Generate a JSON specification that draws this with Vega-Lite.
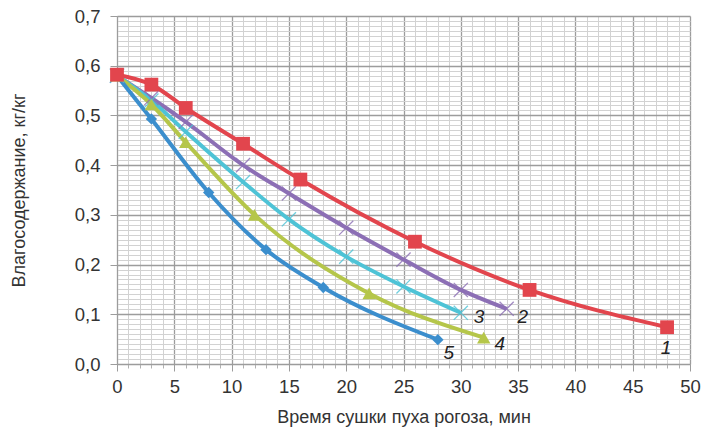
{
  "$schema": "https://vega.github.io/schema/vega-lite/v6.json",
  "width": 573,
  "height": 348,
  "autosize": "none",
  "padding": {"left": 117, "top": 16, "right": 14, "bottom": 64},
  "background": "white",
  "config": {
    "view": {"stroke": null},
    "font": "Liberation Sans",
    "axis": {"labelFont": "Liberation Sans", "titleFont": "Liberation Sans", "labelColor": "#333333", "titleColor": "#333333", "labelFontSize": 18.5, "titleFontSize": 18, "titleFontWeight": "normal"}
  },
  "datasets": {
    "curves": [
      {"t": 0, "w": 0.582, "s": "1"}, {"t": 3, "w": 0.562, "s": "1"}, {"t": 6, "w": 0.515, "s": "1"}, {"t": 11, "w": 0.443, "s": "1"}, {"t": 16, "w": 0.371, "s": "1"}, {"t": 26, "w": 0.246, "s": "1"}, {"t": 36, "w": 0.149, "s": "1"}, {"t": 48, "w": 0.074, "s": "1"},
      {"t": 0, "w": 0.58, "s": "2"}, {"t": 3, "w": 0.535, "s": "2"}, {"t": 6, "w": 0.487, "s": "2"}, {"t": 11, "w": 0.4, "s": "2"}, {"t": 15, "w": 0.343, "s": "2"}, {"t": 20, "w": 0.274, "s": "2"}, {"t": 25, "w": 0.21, "s": "2"}, {"t": 30, "w": 0.149, "s": "2"}, {"t": 34, "w": 0.111, "s": "2"},
      {"t": 0, "w": 0.58, "s": "3"}, {"t": 3, "w": 0.53, "s": "3"}, {"t": 6, "w": 0.467, "s": "3"}, {"t": 11, "w": 0.366, "s": "3"}, {"t": 15, "w": 0.291, "s": "3"}, {"t": 20, "w": 0.216, "s": "3"}, {"t": 25, "w": 0.156, "s": "3"}, {"t": 30, "w": 0.103, "s": "3"},
      {"t": 0, "w": 0.58, "s": "4"}, {"t": 3, "w": 0.522, "s": "4"}, {"t": 6, "w": 0.446, "s": "4"}, {"t": 12, "w": 0.3, "s": "4"}, {"t": 22, "w": 0.142, "s": "4"}, {"t": 32, "w": 0.053, "s": "4"},
      {"t": 0, "w": 0.58, "s": "5"}, {"t": 3, "w": 0.493, "s": "5"}, {"t": 8, "w": 0.345, "s": "5"}, {"t": 13, "w": 0.23, "s": "5"}, {"t": 18, "w": 0.154, "s": "5"}, {"t": 28, "w": 0.049, "s": "5"}
    ],
    "labels": [
      {"t": 47.9, "w": 0.033, "label": "1"},
      {"t": 35.4, "w": 0.094, "label": "2"},
      {"t": 31.6, "w": 0.094, "label": "3"},
      {"t": 33.4, "w": 0.041, "label": "4"},
      {"t": 28.95, "w": 0.022, "label": "5"}
    ]
  },
  "layer": [
    {
      "data": {"name": "curves"},
      "mark": {"type": "point", "opacity": 0},
      "encoding": {
        "x": {"field": "t", "type": "quantitative", "scale": {"domain": [0, 50], "nice": false, "zero": false},
          "axis": {"orient": "bottom", "values": [1,2,3,4,6,7,8,9,11,12,13,14,16,17,18,19,21,22,23,24,26,27,28,29,31,32,33,34,36,37,38,39,41,42,43,44,46,47,48,49], "grid": true, "gridColor": "#d2d2d2", "gridWidth": 1, "labels": false, "ticks": true, "tickSize": 4, "tickColor": "#b0b0b0", "domain": false, "title": null}},
        "y": {"field": "w", "type": "quantitative", "scale": {"domain": [0, 0.7], "nice": false, "zero": false},
          "axis": {"orient": "left", "values": [0.01,0.02,0.03,0.04,0.05,0.06,0.07,0.08,0.09,0.11,0.12,0.13,0.14,0.15,0.16,0.17,0.18,0.19,0.21,0.22,0.23,0.24,0.25,0.26,0.27,0.28,0.29,0.31,0.32,0.33,0.34,0.35,0.36,0.37,0.38,0.39,0.41,0.42,0.43,0.44,0.45,0.46,0.47,0.48,0.49,0.51,0.52,0.53,0.54,0.55,0.56,0.57,0.58,0.59,0.61,0.62,0.63,0.64,0.65,0.66,0.67,0.68,0.69], "grid": true, "gridColor": "#d2d2d2", "gridWidth": 1, "labels": false, "ticks": false, "domain": false, "title": null}}
      }
    },
    {
      "data": {"name": "curves"},
      "mark": {"type": "point", "opacity": 0},
      "encoding": {
        "x": {"field": "t", "type": "quantitative",
          "axis": {"orient": "bottom", "values": [0,5,10,15,20,25,30,35,40,45,50], "grid": true, "gridColor": "#9c9c9c", "gridWidth": 1.3, "tickSize": 7, "tickColor": "#9c9c9c", "domainColor": "#9c9c9c", "labelPadding": 6, "labelFlush": false, "labelFontSize": 18.5, "title": "Время сушки пуха рогоза, мин", "titleFontSize": 18, "titleFontWeight": "normal", "titlePadding": 13}},
        "y": {"field": "w", "type": "quantitative",
          "axis": {"orient": "left", "values": [0,0.1,0.2,0.3,0.4,0.5,0.6,0.7], "grid": true, "gridColor": "#9c9c9c", "gridWidth": 1.3, "tickSize": 7, "tickColor": "#9c9c9c", "domainColor": "#9c9c9c", "labelPadding": 10, "labelFlush": false, "labelFontSize": 18.5, "labelExpr": "replace(format(datum.value, '.1f'), '.', ',')", "title": "Влагосодержание, кг/кг", "titleFontSize": 18, "titleFontWeight": "normal", "titlePadding": 46}}
      }
    },
    {
      "data": {"name": "curves"},
      "mark": {"type": "line", "interpolate": "monotone", "strokeWidth": 4},
      "encoding": {
        "x": {"field": "t", "type": "quantitative", "axis": null},
        "y": {"field": "w", "type": "quantitative", "axis": null},
        "color": {"field": "s", "type": "nominal", "legend": null, "scale": {"domain": ["1","2","3","4","5"], "range": ["#e2454d", "#8c6fb5", "#4ec3d6", "#b5c64a", "#3b8ecd"]}},
        "order": {"field": "t", "type": "quantitative"}
      }
    },
    {
      "data": {"name": "curves"},
      "transform": [{"filter": "datum.s == '2' || datum.s == '3'"}],
      "mark": {"type": "point", "shape": "M-1,-1L1,1M-1,1L1,-1", "filled": false, "strokeWidth": 1.3, "size": 200, "opacity": 0.8},
      "encoding": {
        "x": {"field": "t", "type": "quantitative", "axis": null},
        "y": {"field": "w", "type": "quantitative", "axis": null},
        "color": {"field": "s", "type": "nominal", "legend": null}
      }
    },
    {
      "data": {"name": "curves"},
      "transform": [{"filter": "datum.s == '4'"}],
      "mark": {"type": "point", "shape": "triangle-up", "filled": true, "size": 180, "opacity": 1, "color": "#b5c64a"},
      "encoding": {
        "x": {"field": "t", "type": "quantitative", "axis": null},
        "y": {"field": "w", "type": "quantitative", "axis": null}
      }
    },
    {
      "data": {"name": "curves"},
      "transform": [{"filter": "datum.s == '5'"}],
      "mark": {"type": "point", "shape": "diamond", "filled": true, "size": 130, "opacity": 1, "color": "#3b8ecd"},
      "encoding": {
        "x": {"field": "t", "type": "quantitative", "axis": null},
        "y": {"field": "w", "type": "quantitative", "axis": null}
      }
    },
    {
      "data": {"name": "curves"},
      "transform": [{"filter": "datum.s == '1'"}],
      "mark": {"type": "point", "shape": "square", "filled": true, "size": 190, "opacity": 1, "color": "#e2454d"},
      "encoding": {
        "x": {"field": "t", "type": "quantitative", "axis": null},
        "y": {"field": "w", "type": "quantitative", "axis": null}
      }
    },
    {
      "data": {"name": "labels"},
      "mark": {"type": "text", "fontStyle": "italic", "fontSize": 19, "color": "#222222", "align": "center", "baseline": "middle", "font": "Liberation Sans"},
      "encoding": {
        "x": {"field": "t", "type": "quantitative", "axis": null},
        "y": {"field": "w", "type": "quantitative", "axis": null},
        "text": {"field": "label"}
      }
    }
  ],
  "resolve": {"axis": {"x": "independent", "y": "independent"}}
}
